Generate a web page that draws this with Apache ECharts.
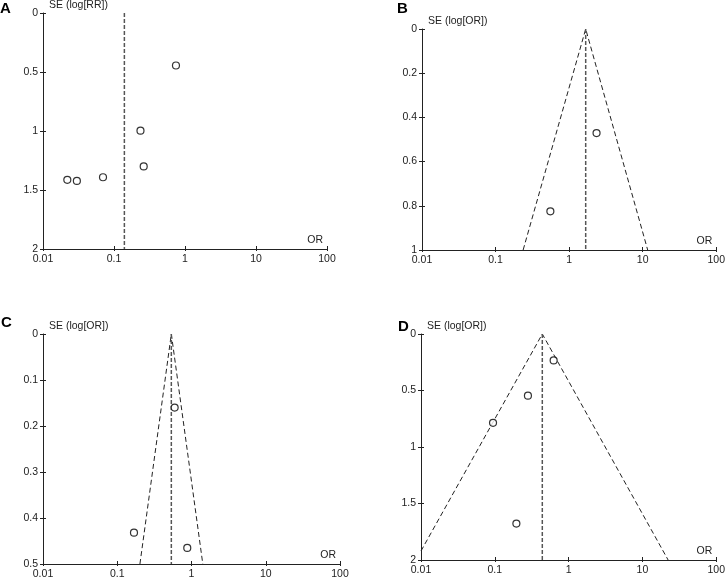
<!DOCTYPE html>
<html>
<head>
<meta charset="utf-8">
<title>Funnel plots</title>
<script src="https://cdn.jsdelivr.net/npm/echarts@6/dist/echarts.min.js"></script>
<style>
  html, body { margin: 0; padding: 0; background: #fff; }
  #chart { width: 728px; height: 580px; }
</style>
</head>
<body>
<div id="chart"></div>
<script>
// panel letters and axis titles
var panelLetters = ['A', 'B', 'C', 'D'];
var yNames = ['SE (log[RR])', 'SE (log[OR])', 'SE (log[OR])', 'SE (log[OR])'];
var yMax = [2, 1, 0.5, 2];
var yStep = [0.5, 0.2, 0.1, 0.5];

// studies: [OR, SE]
var studiesA = [[0.746, 0.445], [0.236, 0.997], [0.262, 1.30], [0.070, 1.392], [0.022, 1.414], [0.030, 1.423]];
var studiesB = [[2.36, 0.471], [0.556, 0.825]];
var studiesC = [[0.593, 0.160], [0.168, 0.432], [0.877, 0.465]];
var studiesD = [[0.627, 0.234], [0.281, 0.546], [0.0946, 0.786], [0.196, 1.678]];

// pooled estimate line (vertical) and funnel limits
var pooledA = [[0.14, 0], [0.14, 2]];
var pooledB = [[1.68, 0], [1.68, 1]];
var pooledC = [[0.535, 0], [0.535, 0.5]];
var pooledD = [[0.44, 0], [0.44, 2]];
var funnelB = [[0.237, 1], [1.68, 0], [11.7, 1]];
var funnelC = [[0.202, 0.5], [0.535, 0], [1.42, 0.5]];
var funnelD = [[0.01, 1.92], [0.44, 0], [22.3, 2]];

var studies = [studiesA, studiesB, studiesC, studiesD];
var pooled = [pooledA, pooledB, pooledC, pooledD];
var funnels = [null, funnelB, funnelC, funnelD];

var grids = [
  {left: 43, top: 11, width: 284, height: 238},
  {left: 422, top: 29, width: 299, height: 221},
  {left: 43, top: 334, width: 297, height: 232},
  {left: 421, top: 334, width: 300, height: 226}
];
var letterPos = [[0, 1], [397, 1], [1, 315], [398, 319]];

var axisColor = '#222';
var font = 'Liberation Sans, Arial, sans-serif';

var xAxes = [], yAxes = [], series = [], titles = [];
for (var i = 0; i < 4; i++) {
  titles.push({
    text: panelLetters[i], left: letterPos[i][0], top: letterPos[i][1], padding: 0,
    textStyle: {fontSize: 15, fontWeight: 'bold', color: '#000', fontFamily: font}
  });
  xAxes.push({
    gridIndex: i, type: 'log', logBase: 10, min: 0.01, max: 100, position: 'bottom',
    name: 'OR', nameLocation: 'end', nameGap: -4,
    nameTextStyle: {align: 'right', verticalAlign: 'bottom', padding: [0, 0, 3, 0], fontSize: 10.5, color: axisColor, fontFamily: font},
    axisLine: {onZero: false, lineStyle: {color: axisColor, width: 1}},
    axisTick: {length: 2, lineStyle: {color: axisColor}},
    axisLabel: {fontSize: 10.5, color: axisColor, margin: 5, fontFamily: font,
      formatter: function (v) { return String(+v.toPrecision(3)); }},
    splitLine: {show: false}
  });
  yAxes.push({
    gridIndex: i, type: 'value', position: 'left', inverse: true, min: 0, max: yMax[i], interval: yStep[i],
    name: yNames[i], nameLocation: 'start', nameGap: 2,
    nameTextStyle: {align: 'left', verticalAlign: 'bottom', padding: [0, 0, 0, 6], fontSize: 10.5, color: axisColor, fontFamily: font},
    axisLine: {onZero: false, lineStyle: {color: axisColor, width: 1}},
    axisTick: {length: 3, lineStyle: {color: axisColor}},
    axisLabel: {fontSize: 10.5, color: axisColor, margin: 5, fontFamily: font},
    splitLine: {show: false}
  });
  if (funnels[i]) {
    series.push({
      type: 'line', xAxisIndex: i, yAxisIndex: i, data: funnels[i],
      showSymbol: false, silent: true, z: 2,
      lineStyle: {color: '#222', width: 1, type: [5, 3]}
    });
  }
  series.push({
    type: 'line', xAxisIndex: i, yAxisIndex: i, data: pooled[i],
    showSymbol: false, silent: true, z: 2,
    lineStyle: {color: '#555', width: 1.5, type: [4, 2]}
  });
  series.push({
    type: 'scatter', xAxisIndex: i, yAxisIndex: i, data: studies[i],
    symbol: 'circle', symbolSize: 7, z: 3,
    itemStyle: {color: '#fff', borderColor: '#000', borderWidth: 1.2}
  });
}
// second set of axes: only the inner half of the ticks, so they cross the axis line
for (var j = 0; j < 4; j++) {
  xAxes.push({
    gridIndex: j, type: 'log', logBase: 10, min: 0.01, max: 100, position: 'bottom', offset: 0,
    axisLine: {show: false, onZero: false},
    axisTick: {inside: true, length: 3, lineStyle: {color: axisColor}},
    axisLabel: {show: false}, splitLine: {show: false}
  });
  yAxes.push({
    gridIndex: j, type: 'value', position: 'left', offset: 0, inverse: true, min: 0, max: yMax[j], interval: yStep[j],
    axisLine: {show: false, onZero: false},
    axisTick: {inside: true, length: 3, lineStyle: {color: axisColor}},
    axisLabel: {show: false}, splitLine: {show: false}
  });
}

var chart = echarts.init(document.getElementById('chart'));
chart.setOption({
  animation: false,
  backgroundColor: '#fff',
  title: titles,
  grid: grids,
  xAxis: xAxes,
  yAxis: yAxes,
  series: series
});
</script>
</body>
</html>
